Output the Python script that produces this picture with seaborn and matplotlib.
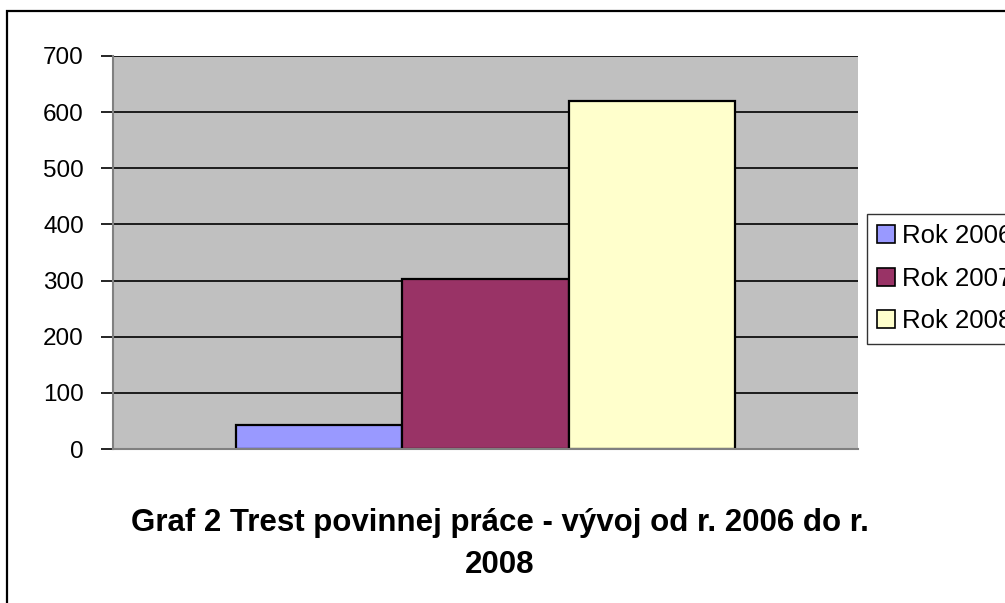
import matplotlib
matplotlib.use("Agg")
import matplotlib.pyplot as plt
import seaborn as sns
import pandas as pd
from matplotlib.patches import Rectangle

categories = ["Rok 2006", "Rok 2007", "Rok 2008"]
values = [43, 303, 620]
colors = ["#9999FF", "#993366", "#FFFFCC"]
yticks = [0, 100, 200, 300, 400, 500, 600, 700]
title = "Graf 2 Trest povinnej práce - vývoj od r. 2006 do r.\n2008"

sns.set_theme(style="white")
plt.rcParams['font.family'] = ['Liberation Sans', 'DejaVu Sans']
plt.rcParams['text.color'] = 'black'
plt.rcParams['ytick.color'] = 'black'

W, H = 1005, 603
fig = plt.figure(figsize=(W / 100, H / 100), dpi=100)
fig.patch.set_facecolor("white")

# chart border
fig.add_artist(Rectangle((7 / W, -0.1), 1.2, (H - 11) / H + 0.1, transform=fig.transFigure,
                         fill=False, edgecolor="black", linewidth=1.6, zorder=10))

ax = fig.add_axes([113 / W, (H - 449) / H, (858 - 113) / W, (449 - 56) / H])
df = pd.DataFrame({"g": [""] * 3, "year": categories, "val": values})
sns.barplot(data=df, x="g", y="val", hue="year", palette=colors, width=0.67,
            saturation=1, edgecolor="black", linewidth=1.6, ax=ax, legend=True, gap=0)
ax.set_facecolor("#C0C0C0")
ax.set_xlim(-0.5, 0.5)
ax.set_ylim(0, 700)
ax.set_yticks(yticks)
ax.set_yticklabels([str(t) for t in yticks], fontsize=17.5, color="black")
ax.set_xticks([])
ax.set_xlabel("")
ax.set_ylabel("")
ax.yaxis.grid(True, color="black", linewidth=1.2)
ax.set_axisbelow(True)
ax.tick_params(axis="y", left=True, length=9, width=1.2, color="black", pad=12)
for s in ["top", "right"]:
    ax.spines[s].set_visible(False)
ax.spines["left"].set_color("#808080")
ax.spines["left"].set_linewidth(1.5)
ax.spines["bottom"].set_color("#808080")
ax.spines["bottom"].set_linewidth(1.5)

leg = ax.legend(loc="upper left", bbox_to_anchor=(867 / W, (H - 214) / H),
                bbox_transform=fig.transFigure, fontsize=18.5, frameon=True,
                fancybox=False, edgecolor="black", handlelength=0.7, handleheight=0.7,
                handletextpad=0.25, borderpad=0.4, labelspacing=0.72, borderaxespad=0)
leg.get_frame().set_linewidth(1.0)
for t in leg.get_texts():
    t.set_color("black")
for h in leg.legend_handles:
    h.set_linewidth(1.2)

fig.text(500 / W, (H - 573) / H, title, ha="center", va="baseline", fontsize=22.5,
         fontweight="bold", linespacing=1.53, color="black")

fig.savefig("out.png", dpi=100)
